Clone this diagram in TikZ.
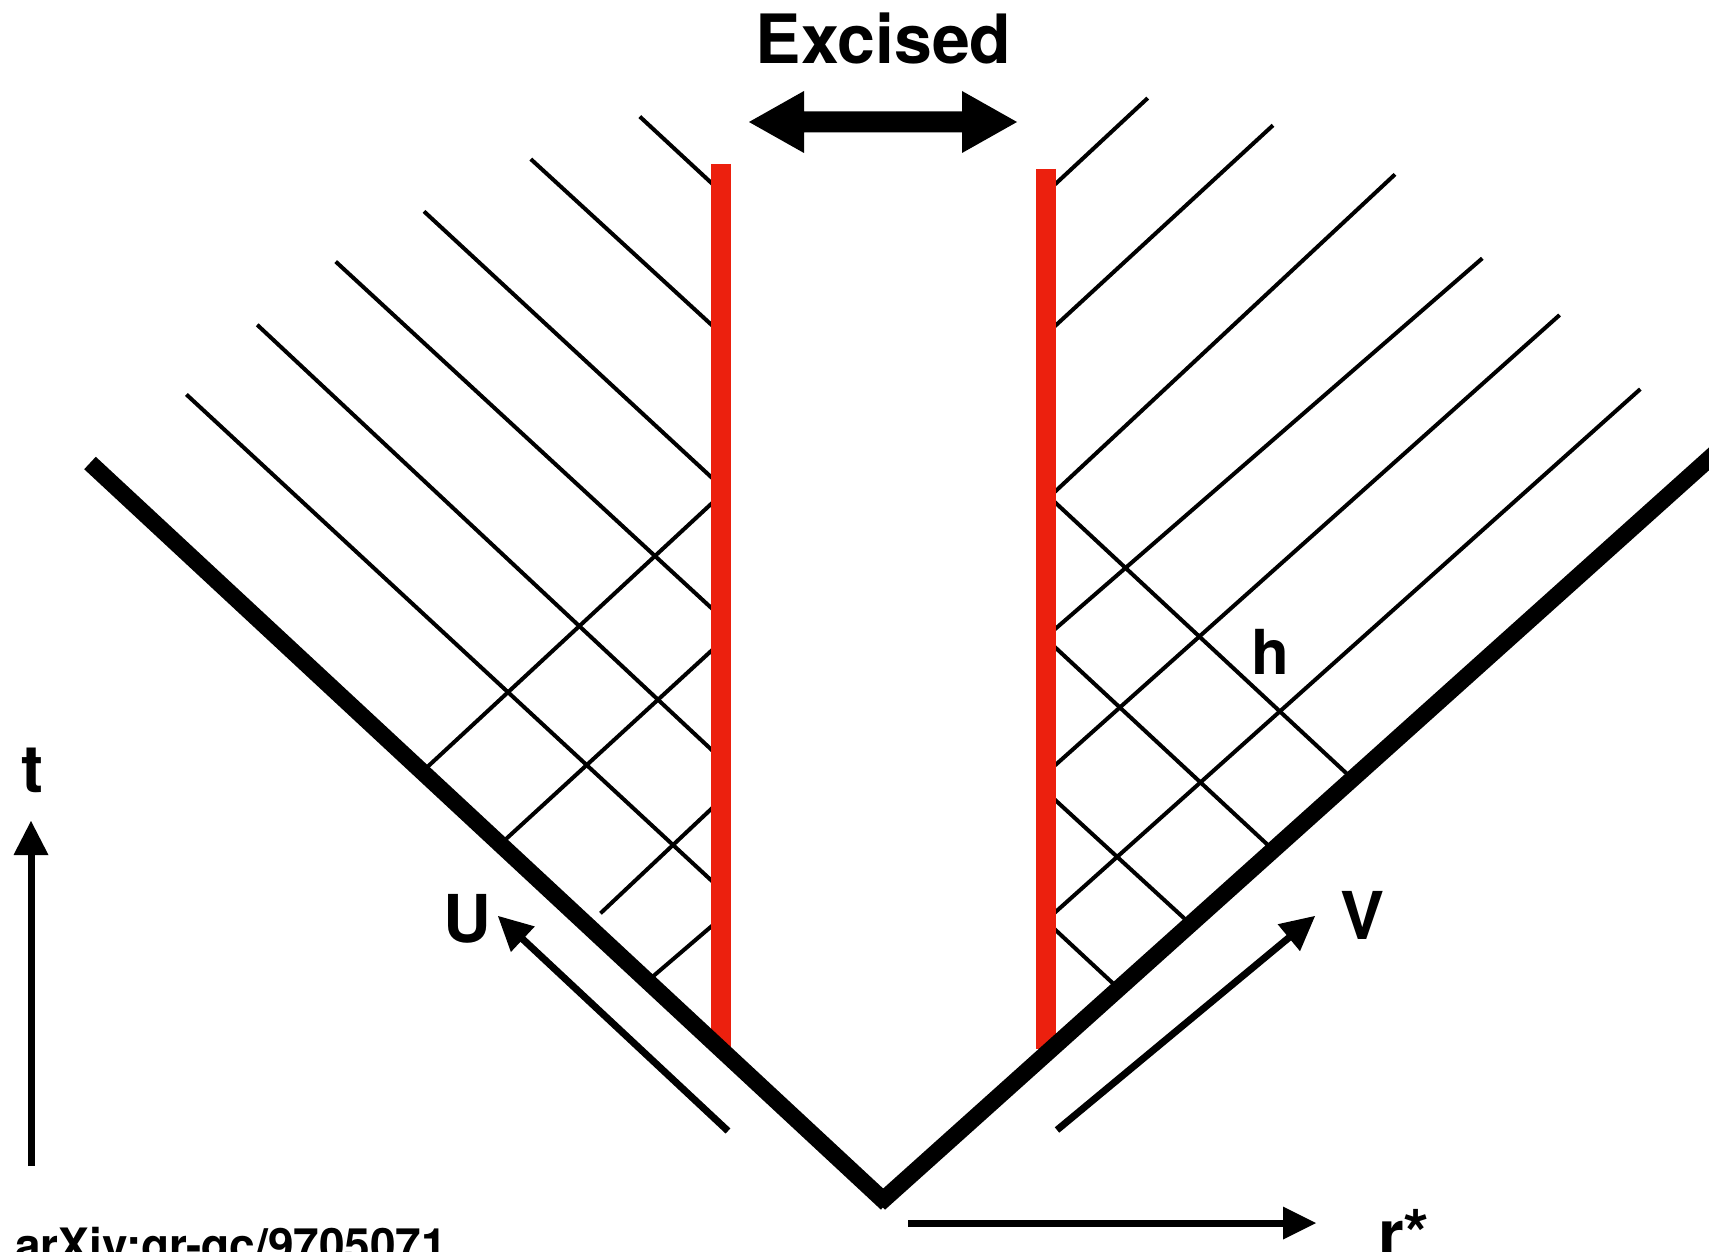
\documentclass[tikz,border=0pt]{standalone}
\usepackage{fontspec}
\setmainfont{TeX Gyre Heros}
\usetikzlibrary{calc}
\definecolor{exred}{RGB}{236,32,14}
\newcommand\myhead[4]{\fill (#1) -- ($(#1)!#3!(#2)!#4!90:(#2)$) -- ($(#1)!#3!(#2)!#4!-90:(#2)$) -- cycle;}
\begin{document}
\begin{tikzpicture}[x=1pt,y=-1pt,
  gridline/.style={line width=4pt},
  thickarm/.style={line width=17pt},
  redline/.style={line width=20pt, exred},
  shaft/.style={line width=7pt},
  lbl/.style={inner sep=0pt, anchor=base, font=\fontsize{66}{70}\selectfont\bfseries},
]
\useasboundingbox (0,0) rectangle (1709,1252);
\clip (0,0) rectangle (1709,1252);

% left "\" lines
\draw[gridline] (639.8,116.6) -- (718,189.1);
\draw[gridline] (530.8,159.1) -- (718,330.8);
\draw[gridline] (424,211.4) -- (718,483.4);
\draw[gridline] (335.7,261.6) -- (718,614.1);
\draw[gridline] (257.2,324.8) -- (718,755.8);
\draw[gridline] (186.4,394.5) -- (718,886.6);
% left "/" lines
\draw[gridline] (423,771) -- (718,497.6);
\draw[gridline] (500,844.5) -- (718,644.7);
\draw[gridline] (600.5,913.3) -- (718,802.6);
\draw[gridline] (649,979.8) -- (718,920.7);
% right "/" lines
\draw[gridline] (1048,190.9) -- (1147.7,98.1);
\draw[gridline] (1048,332.5) -- (1273,125.3);
\draw[gridline] (1048,498.2) -- (1395,174.4);
\draw[gridline] (1048,635.2) -- (1482.3,258.3);
\draw[gridline] (1048,771.6) -- (1559.6,315);
\draw[gridline] (1048,918.7) -- (1640.3,389.1);
% right "\" lines
\draw[gridline] (1048,495.8) -- (1352,778.5);
\draw[gridline] (1048,640.7) -- (1272.5,849.3);
\draw[gridline] (1048,793.4) -- (1189.5,923.2);
\draw[gridline] (1048,923.0) -- (1118.5,988.5);

% excised boundaries
\draw[redline] (720.5,164) -- (720.5,1047);
\draw[redline] (1045.5,169) -- (1045.5,1049);

% thick light-cone arms
\draw[thickarm] (90,463) -- (886.7,1203.4);
\draw[thickarm] (879.3,1203.4) -- (1720,449);

% Excised double arrow
\fill (749,122) -- (804,91) -- (804,111.5) -- (962,111.5) -- (962,91) -- (1017,122)
  -- (962,153) -- (962,132.5) -- (804,132.5) -- (804,153) -- cycle;
\node[lbl, font=\fontsize{68}{72}\selectfont\bfseries] (exc) at (883.5,64) {Excised};

% t axis
\coordinate (ttail) at (31,1166);
\coordinate (ttip) at (31,821);
\draw[shaft] (ttail) -- ($(ttip)!20pt!(ttail)$);
\myhead{ttip}{ttail}{34pt}{17.5pt}
\node[lbl] (tl) at (32.5,792) {t};

% r* axis
\coordinate (rtail) at (908,1223);
\coordinate (rtip) at (1316,1223);
\draw[shaft] (rtail) -- ($(rtip)!20pt!(rtail)$);
\myhead{rtip}{rtail}{33pt}{16.5pt}
\node[lbl, anchor=base west] (rl) at (1378,1257) {r*};

% U arrow
\coordinate (Utail) at (728,1131);
\coordinate (Utip) at (498,916);
\draw[shaft] (Utail) -- ($(Utip)!20pt!(Utail)$);
\myhead{Utip}{Utail}{34pt}{17.5pt}
\node[lbl] (Ul) at (467,942) {U};

% V arrow
\coordinate (Vtail) at (1057,1130);
\coordinate (Vtip) at (1315,916);
\draw[shaft] (Vtail) -- ($(Vtip)!20pt!(Vtail)$);
\myhead{Vtip}{Vtail}{34pt}{17.5pt}
\node[lbl] (Vl) at (1362.5,939) {V};

% h label
\node[lbl, font=\fontsize{62}{66}\selectfont\bfseries] (hl) at (1270.5,674) {h};

% source
\node[inner sep=0pt, anchor=base west, font=\fontsize{46}{50}\selectfont\bfseries] (src) at (15,1261) {arXiv:gr-qc/9705071};
\end{tikzpicture}
\end{document}
